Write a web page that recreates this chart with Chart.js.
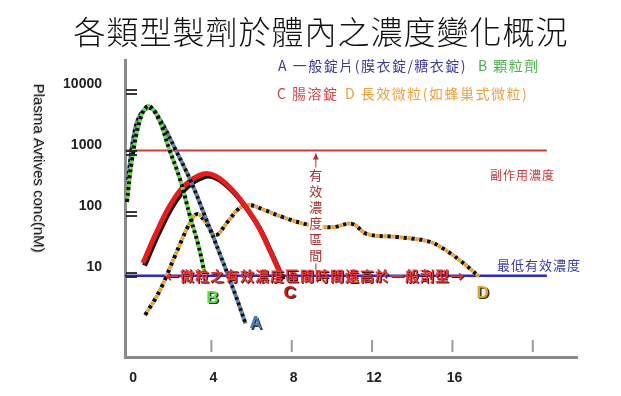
<!DOCTYPE html>
<html>
<head>
<meta charset="utf-8">
<script src="https://cdn.jsdelivr.net/npm/chart.js@4"></script>
<style>
html, body { margin: 0; padding: 0; background: #fff; }
#chart { display: block; }
</style>
</head>
<body>
<canvas id="chart" width="621" height="396"></canvas>
<script>
// time (h) and concentration (nM)
const timeA = [-0.15, 0.1, 0.45, 0.95, 1.45, 2.2, 2.95, 3.7, 4.45, 5.2, 5.7];
const concA = [360, 1630, 4200, 5470, 3480, 1160, 360, 89, 21, 4.7, 1.6];

const timeB = [-0.2, 0.05, 0.45, 0.85, 1.35, 1.9, 2.45, 2.95, 3.35, 3.65];
const concB = [157, 770, 3480, 5890, 3750, 1160, 360, 89, 31, 11.2];

const timeC = [0.6, 1.2, 1.95, 2.7, 3.6, 4.2, 4.95, 5.65, 6.3, 6.9, 7.5];
const concC = [15.7, 45, 140, 300, 453, 420, 267, 140, 66, 25.7, 9.3];

const timeD = [0.7, 1.45, 2.2, 2.95, 3.3, 3.7, 4.2, 4.8, 5.4, 5.9, 6.65, 7.55, 8.9, 10.05, 11.0, 11.75, 13.25, 14.75, 15.4, 16.35, 17.35];
const concD = [2.2, 5.7, 21, 74, 100, 74, 45, 74, 125, 140, 116, 89, 66, 61, 69, 47, 42, 36, 29, 17.6, 9.3];

const toxicLevel = 1100;      // 副作用濃度
const minEffective = 9.7;     // 最低有效濃度
const refLineSpan = [-0.3, 20.7];
const arrowTime = 9.2;

const xTicks = [0, 4, 8, 12, 16];
const xMarks = [4, 8, 12, 16, 20];
const yTicks = [10, 100, 1000, 10000];

const seriesNames = ['A', 'B', 'C', 'D'];

const toPoints = (xs, ys) => xs.map((t, i) => ({ x: t, y: ys[i] }));

const CJK = '"Noto Sans CJK TC", sans-serif';

const dotted = (xs, ys, color, dash, offset, order) => ({
    data: toPoints(xs, ys),
    borderColor: color,
    borderWidth: 4,
    borderDash: dash,
    borderDashOffset: offset,
    borderCapStyle: 'butt',
    tension: 0.4,
    pointRadius: 0,
    order: order
});

// Custom drawing: title, legend texts, labels, arrow, axis marks
const decor = {
    id: 'decor',
    beforeDatasetDraw(chart, args) {
        const ds = chart.data.datasets[args.index];
        if (ds.shadow) {
            const ctx = chart.ctx;
            ctx.save();
            ctx.shadowColor = ds.shadow;
            ctx.shadowOffsetX = 1.5;
            ctx.shadowOffsetY = 2.5;
            ctx.shadowBlur = 0.5;
        }
    },
    afterDatasetDraw(chart, args) {
        if (chart.data.datasets[args.index].shadow) chart.ctx.restore();
    },
    afterDraw(chart) {
        const { ctx, chartArea, scales: { x, y } } = chart;
        ctx.save();

        // y "=" marks
        ctx.strokeStyle = '#222';
        ctx.lineWidth = 1.8;
        yTicks.forEach(v => {
            const py = y.getPixelForValue(v);
            [-2, 2].forEach(d => {
                ctx.beginPath();
                ctx.moveTo(chartArea.left + 1, py + d);
                ctx.lineTo(chartArea.left + 12, py + d);
                ctx.stroke();
            });
        });

        // x tick marks inside the plot
        ctx.strokeStyle = '#9a9a9a';
        ctx.lineWidth = 2;
        xMarks.forEach(v => {
            const px = x.getPixelForValue(v);
            ctx.beginPath();
            ctx.moveTo(px, chartArea.bottom - 17);
            ctx.lineTo(px, chartArea.bottom - 5);
            ctx.stroke();
        });

        // title
        ctx.fillStyle = '#111';
        ctx.textAlign = 'center';
        ctx.textBaseline = 'middle';
        ctx.font = '300 32px ' + CJK;
        ctx.letterSpacing = '1px';
        ctx.fillText('各類型製劑於體內之濃度變化概況', 321, 32);

        // legend texts
        ctx.textAlign = 'left';
        ctx.font = '14px ' + CJK;
        ctx.letterSpacing = '1.5px';
        ctx.fillStyle = '#3a3a9c';
        ctx.fillText('A 一般錠片(膜衣錠/糖衣錠)', 278, 66);
        ctx.fillStyle = '#45b045';
        ctx.fillText('B 顆粒劑', 478, 66);
        ctx.fillStyle = '#d04545';
        ctx.fillText('C 腸溶錠', 277, 94);
        ctx.fillStyle = '#eaa040';
        ctx.fillText('D 長效微粒(如蜂巢式微粒)', 345, 94);

        // y axis title (reads top to bottom)
        ctx.save();
        ctx.translate(38, 168);
        ctx.rotate(Math.PI / 2);
        ctx.textAlign = 'center';
        ctx.letterSpacing = '0px';
        ctx.font = '15px "Liberation Sans", Arial, sans-serif';
        ctx.fillStyle = '#bbb';
        ctx.fillText('Plasma Avtives conc(nM)', 1, 1);
        ctx.fillStyle = '#222';
        ctx.fillText('Plasma Avtives conc(nM)', 0, 0);
        ctx.restore();

        // reference line captions
        ctx.letterSpacing = '1px';
        ctx.font = '12px ' + CJK;
        ctx.fillStyle = '#c83838';
        ctx.fillText('副作用濃度', 490, 175);
        ctx.font = '13px ' + CJK;
        ctx.fillStyle = '#3a3aa8';
        ctx.fillText('最低有效濃度', 497, 265);

        // vertical arrow for the effective range
        const ax = x.getPixelForValue(arrowTime);
        const aTop = y.getPixelForValue(toxicLevel) + 3;
        const aBot = y.getPixelForValue(minEffective) - 6;
        ctx.strokeStyle = '#a83030';
        ctx.fillStyle = '#a83030';
        ctx.lineWidth = 1;
        ctx.beginPath();
        ctx.moveTo(ax, aTop);
        ctx.lineTo(ax, aBot);
        ctx.stroke();
        ctx.beginPath();
        ctx.moveTo(ax, aTop);
        ctx.lineTo(ax - 3, aTop + 6);
        ctx.lineTo(ax + 3, aTop + 6);
        ctx.closePath();
        ctx.fill();
        const vText = '有效濃度區間';
        ctx.fillStyle = '#fff';
        ctx.fillRect(ax - 7, aTop + 14, 14, 96);
        ctx.fillStyle = '#a83030';
        ctx.font = '13px ' + CJK;
        ctx.textAlign = 'center';
        ctx.letterSpacing = '0px';
        [...vText].forEach((ch, i) => ctx.fillText(ch, ax, aTop + 22 + i * 16));

        // red bold note on the minimum effective line
        ctx.save();
        ctx.font = 'bold 14px ' + CJK;
        ctx.letterSpacing = '1px';
        ctx.shadowColor = '#5a1010';
        ctx.shadowOffsetX = 1;
        ctx.shadowOffsetY = 1;
        ctx.fillStyle = '#e23a3a';
        ctx.fillText('←微粒之有效濃度區間時間遠高於一般劑型→', 315, y.getPixelForValue(minEffective));
        ctx.restore();

        // series letters next to curve ends
        const labelStyle = [
            { color: '#4a7ab8', dx: 10, dy: 0 },
            { color: '#5ee04a', dx: 8, dy: 26 },
            { color: '#e01010', dx: 8, dy: 16 },
            { color: '#f0a020', dx: 3, dy: 16 }
        ];
        const ends = [
            [timeA, concA], [timeB, concB], [timeC, concC], [timeD, concD]
        ];
        ctx.font = 'bold 17px "Liberation Sans", Arial, sans-serif';
        ctx.letterSpacing = '0px';
        ctx.textAlign = 'center';
        seriesNames.forEach((name, i) => {
            const [ts, cs] = ends[i];
            const px = x.getPixelForValue(ts[ts.length - 1]) + labelStyle[i].dx;
            const py = y.getPixelForValue(cs[cs.length - 1]) + labelStyle[i].dy;
            ctx.save();
            ctx.shadowColor = '#333';
            ctx.shadowOffsetX = 1.5;
            ctx.shadowOffsetY = 1.5;
            ctx.fillStyle = labelStyle[i].color;
            ctx.fillText(name, px, py);
            ctx.restore();
        });

        ctx.restore();
    }
};

const ctx = document.getElementById('chart').getContext('2d');

new Chart(ctx, {
    type: 'line',
    data: {
        datasets: [
            {
                data: toPoints(refLineSpan, [toxicLevel, toxicLevel]),
                borderColor: '#d43a3a', borderWidth: 2, pointRadius: 0, order: 9
            },
            {
                data: toPoints(refLineSpan, [minEffective, minEffective]),
                borderColor: '#2a2ac8', borderWidth: 2.5, pointRadius: 0, order: 9
            },
            dotted(timeD, concD, '#111', [3.5, 4.5], 0, 6),
            dotted(timeD, concD, '#f0a030', [3.5, 4.5], 4, 6),
            {
                data: toPoints(timeC, concC),
                borderColor: '#ec1a1a', borderWidth: 5, tension: 0.4,
                pointRadius: 0, shadow: '#111', order: 4
            },
            dotted(timeA, concA, '#111', [3, 3], 0, 3),
            dotted(timeA, concA, '#5a84b6', [3, 3], 3, 3),
            dotted(timeB, concB, '#111', [3, 3], 0, 2),
            dotted(timeB, concB, '#66dd44', [3, 3], 3, 2)
        ]
    },
    options: {
        responsive: false,
        animation: false,
        layout: { padding: { top: 60, right: 44, left: 0, bottom: 0 } },
        plugins: {
            legend: { display: false },
            tooltip: { enabled: false }
        },
        scales: {
            x: {
                type: 'linear',
                min: -0.3,
                max: 22.2,
                afterFit: (s) => { s.height = 39; },
                afterBuildTicks: (s) => { s.ticks = xTicks.map(v => ({ value: v })); },
                grid: { display: false },
                border: { display: true, color: '#8a8a8a', width: 3 },
                ticks: {
                    padding: 5,
                    labelOffset: 2,
                    maxRotation: 0,
                    color: '#222',
                    font: { family: 'Liberation Sans', size: 14, weight: 'bold' }
                }
            },
            y: {
                type: 'logarithmic',
                min: 0.453,
                max: 33500,
                afterFit: (s) => { s.width = 125; },
                afterBuildTicks: (s) => { s.ticks = yTicks.map(v => ({ value: v })); },
                grid: { display: false },
                border: { display: true, color: '#8a8a8a', width: 3 },
                ticks: {
                    padding: 15,
                    labelOffset: -8,
                    color: '#222',
                    callback: (v) => String(v),
                    font: { family: 'Liberation Sans', size: 14, weight: 'bold' }
                }
            }
        }
    },
    plugins: [decor]
});
</script>
</body>
</html>
